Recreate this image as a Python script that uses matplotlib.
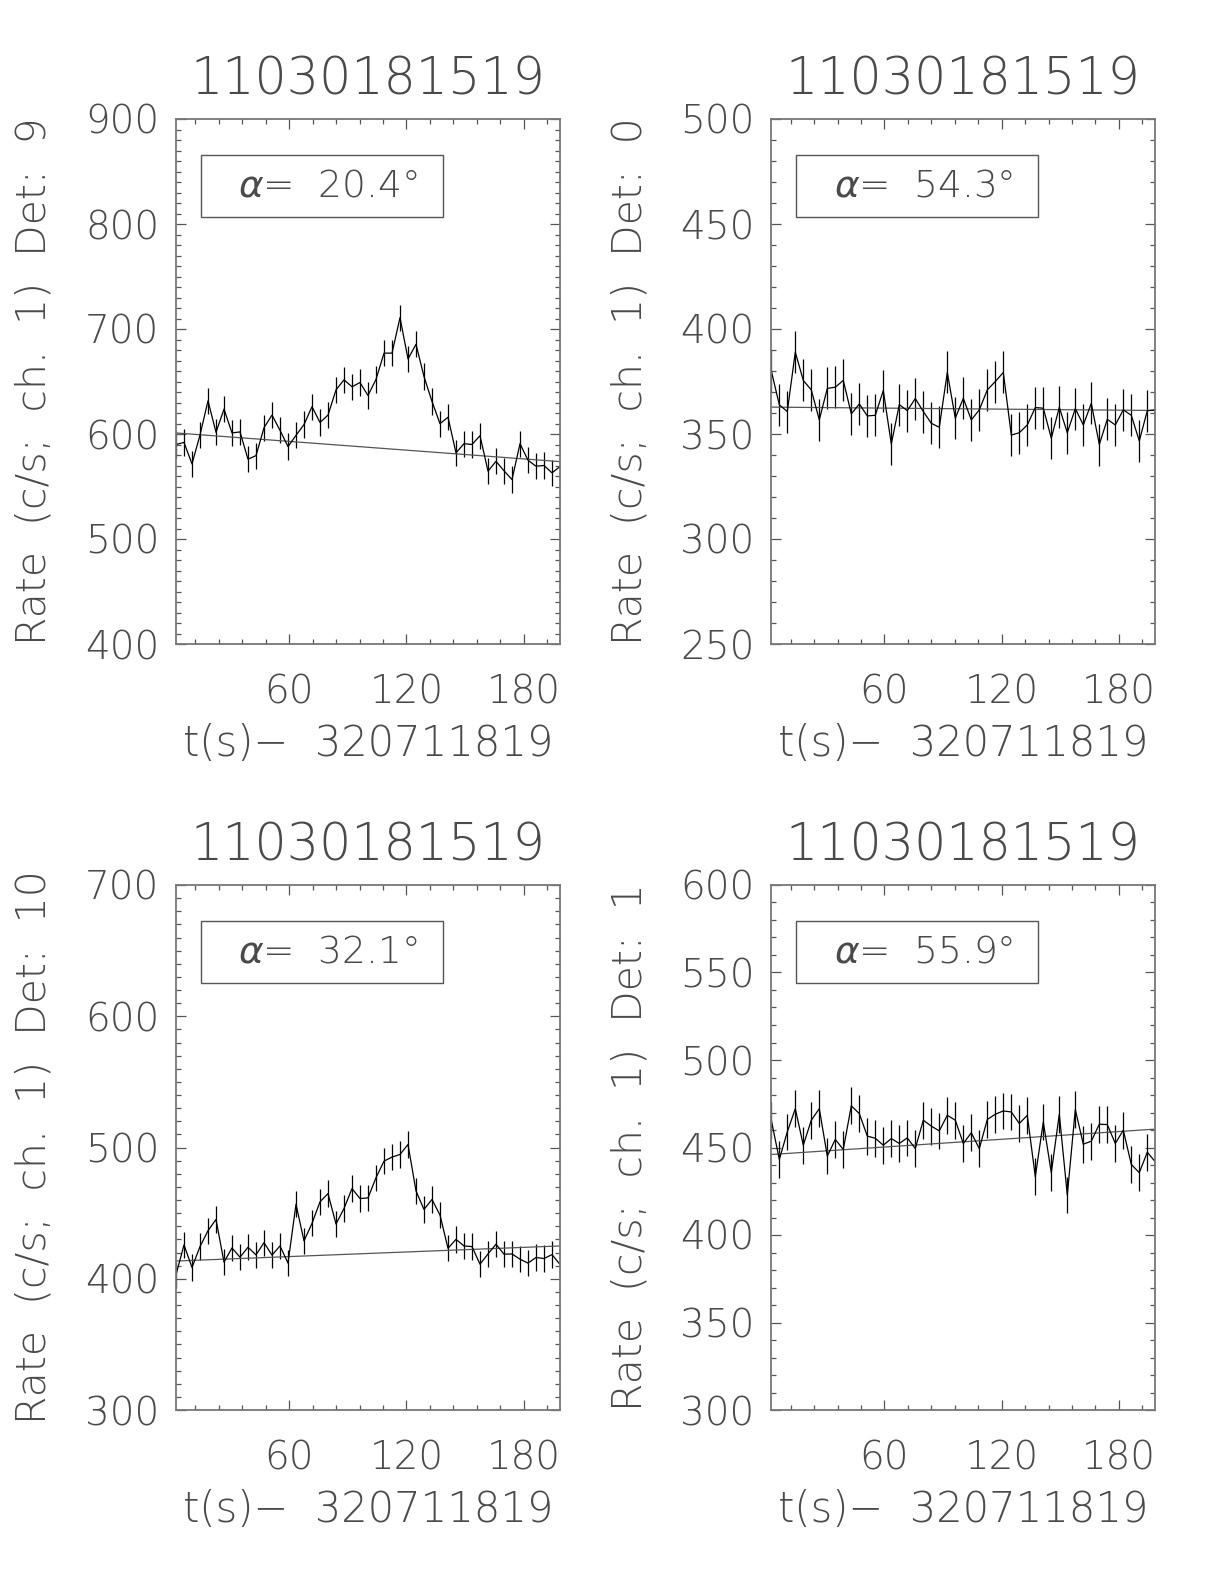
import numpy as np
import matplotlib
matplotlib.use("Agg")
import matplotlib.pyplot as plt
from matplotlib.ticker import MultipleLocator
from matplotlib.patches import Rectangle

plt.rcParams['font.family'] = ['DejaVu Sans']
plt.rcParams['mathtext.fontset'] = 'dejavusans'

# bin centres of the 4.096 s bins
t = 2.048 + 4.096 * np.arange(49)

rate_det9 = [590, 592, 571.5, 599, 631.6, 601.6, 623.7, 601, 602, 576,
             579.4, 606, 618, 603.5, 588, 598.7, 609, 626, 611, 618,
             642, 651.6, 645, 649, 636.7, 652, 677, 677, 710.8, 671.5,
             685.4, 654.7, 631, 609.8, 616, 582, 590.8, 590, 598.4, 564.6,
             574, 565, 556.6, 590.8, 575, 569.3, 570, 563, 569]
rate_det0 = [380.1, 363.9, 360.7, 389, 375.5, 371, 356.7, 371.7, 372.3, 375.5,
             359.6, 364.3, 358.6, 358.9, 370.7, 345.2, 364, 361.1, 366.9, 360.7,
             355.1, 353.2, 379.3, 357.5, 367, 356.7, 361.5, 371, 375, 379.3,
             349.5, 350.6, 354.3, 362.6, 362.3, 348, 362.7, 350.6, 362.1, 354.3,
             364.6, 345, 357, 354.3, 361.5, 358.9, 346.7, 361.1, 361.5]
rate_det10 = [403, 425.8, 408.6, 424.5, 436.6, 445.2, 412.6, 423.5, 416.4, 424,
              418.2, 427.5, 418, 425, 411.9, 456.8, 428.8, 442.2, 458.6, 464.9,
              441.7, 453.5, 468.7, 461.1, 461.6, 477, 489.6, 492.7, 494.7, 502.3,
              466.9, 452.8, 460.4, 448.5, 423.2, 430, 425, 424.5, 411.1, 418.9,
              426.3, 418.7, 418.9, 414.9, 411.9, 416.2, 415.4, 418.4, 410.9]
rate_det1 = [465.6, 443.2, 458.9, 472.2, 451.3, 465.6, 472.2, 445.1, 454.6, 448.9,
             473.8, 469.4, 456.5, 455.3, 451.3, 455.1, 452.3, 455.5, 449.4, 465.6,
             462.2, 459.5, 468.4, 465.6, 452.3, 458.4, 449.4, 466, 469, 470.9,
             470.3, 463.7, 468.4, 433.3, 464.6, 435.6, 469, 422.8, 471.7, 451.9,
             453.6, 463.3, 463.1, 452.3, 459.9, 440.3, 435.6, 447.3, 441.8]

dets = [9, 0, 10, 1]
angles = [20.4, 54.3, 32.1, 55.9]
rates = [rate_det9, rate_det0, rate_det10, rate_det1]
errs = [12.5, 10, 10, 10.5]
# background fit: value at start and end of the window
bkg_start = [601, 362.8, 413.5, 446]
bkg_end = [573.7, 361.2, 425, 460.5]
ylims = [(400, 900), (250, 500), (300, 700), (300, 600)]
ymajor = [100, 50, 100, 50]

fig = plt.figure(figsize=(12.24, 15.84), dpi=100)
lefts = [176 / 1224, 771.3 / 1224, 176 / 1224, 771.3 / 1224]
bottoms = [(1584 - 644) / 1584, (1584 - 644) / 1584,
           (1584 - 1410) / 1584, (1584 - 1410) / 1584]
w = 384 / 1224
h = 525 / 1584
txtc = '#4a4a4a'
wt = 200

for i in range(4):
    ax = fig.add_axes([lefts[i], bottoms[i], w, h])
    ax.errorbar(t, rates[i], yerr=errs[i], color='black', lw=0.9,
                elinewidth=0.9, capsize=0)
    ax.plot([t[0], t[-1]], [bkg_start[i], bkg_end[i]], color='#555555', lw=0.9)
    ax.set_xlim(t[0], t[-1])
    ax.set_ylim(*ylims[i])
    ax.xaxis.set_major_locator(MultipleLocator(60))
    ax.xaxis.set_minor_locator(MultipleLocator(12))
    ax.yaxis.set_major_locator(MultipleLocator(ymajor[i]))
    ax.yaxis.set_minor_locator(MultipleLocator(10))
    ax.tick_params(which='both', direction='in', top=True, right=True,
                   color='#555555', width=0.9)
    ax.tick_params(which='major', length=7)
    ax.tick_params(which='minor', length=3.5)
    ax.tick_params(axis='x', which='major', pad=21, labelsize=28, labelcolor=txtc)
    ax.tick_params(axis='y', which='major', pad=12, labelsize=28, labelcolor=txtc)
    for lab in ax.get_xticklabels() + ax.get_yticklabels():
        lab.set_fontweight(wt)
    for sp in ax.spines.values():
        sp.set_color('#777777')
        sp.set_linewidth(1.3)
    ax.set_xlabel("t(s)\u2212  320711819", fontsize=30, color=txtc,
                  fontweight=wt)
    ax.xaxis.set_label_coords(0.5, -0.15)
    ax.set_ylabel("Rate  (c/s;  ch.  1)  Det:  %d" % dets[i], fontsize=29.5,
                  color=txtc, fontweight=wt)
    ax.yaxis.set_label_coords(-0.318, 0.5)
    ax.text(0.5, 1.046, "11030181519", transform=ax.transAxes, ha='center',
            va='baseline', fontsize=36.5, color=txtc, fontweight=wt)
    ax.add_patch(Rectangle((0.065, 0.813), 0.63, 0.118, transform=ax.transAxes,
                           fill=False, ec='#555555', lw=1.0))
    ax.text(0.396, 0.872, "$\\alpha$=  %.1f\u00b0" % angles[i],
            transform=ax.transAxes, ha='center', va='center', fontsize=27,
            color=txtc, fontweight=wt)

fig.savefig("out.png", dpi=100)
